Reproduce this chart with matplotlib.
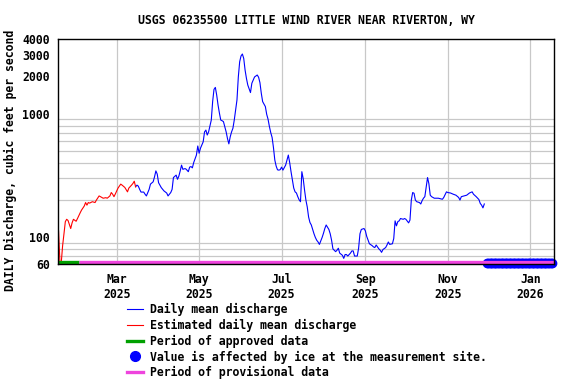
import pandas as pd
import matplotlib

matplotlib.use("Agg")

import matplotlib.pyplot as plt
import matplotlib.dates as mdates
from matplotlib.lines import Line2D

# =====================
# DATA (read off the USGS hydrograph)
# =====================

est_dates = [
    "2025-01-17", "2025-01-18", "2025-01-19", "2025-01-20", "2025-01-21",
    "2025-01-22", "2025-01-23", "2025-01-24", "2025-01-26", "2025-01-27",
    "2025-01-28", "2025-01-30", "2025-01-31", "2025-02-02", "2025-02-03",
    "2025-02-05", "2025-02-06", "2025-02-07", "2025-02-08", "2025-02-09",
    "2025-02-11", "2025-02-13", "2025-02-14", "2025-02-16", "2025-02-17",
    "2025-02-19", "2025-02-21", "2025-02-22", "2025-02-24", "2025-02-25",
    "2025-02-26", "2025-02-27", "2025-02-28", "2025-03-02", "2025-03-04",
    "2025-03-05", "2025-03-07", "2025-03-09", "2025-03-10", "2025-03-12",
    "2025-03-13", "2025-03-14", "2025-03-15",
]
est_values = [
    112, 63, 62, 85, 106,
    133, 139, 136, 117, 130,
    139, 134, 141, 157, 165,
    178, 190, 181, 190, 188,
    193, 190, 199, 215, 212,
    206, 208, 206, 215, 229,
    222, 212, 223, 249, 268,
    263, 252, 232, 249, 263,
    271, 283, 255,
]

daily_dates = [
    "2025-03-15", "2025-03-16", "2025-03-17", "2025-03-18", "2025-03-19",
    "2025-03-21", "2025-03-22", "2025-03-23", "2025-03-25", "2025-03-26",
    "2025-03-28", "2025-03-29", "2025-03-30", "2025-03-31", "2025-04-01",
    "2025-04-03", "2025-04-05", "2025-04-07", "2025-04-08", "2025-04-10",
    "2025-04-11", "2025-04-12", "2025-04-14", "2025-04-15", "2025-04-16",
    "2025-04-17", "2025-04-18", "2025-04-19", "2025-04-20", "2025-04-21",
    "2025-04-22", "2025-04-23", "2025-04-24", "2025-04-25", "2025-04-26",
    "2025-04-27", "2025-04-29", "2025-04-30", "2025-05-01", "2025-05-02",
    "2025-05-04", "2025-05-05", "2025-05-06", "2025-05-07", "2025-05-08",
    "2025-05-10", "2025-05-11", "2025-05-12", "2025-05-13", "2025-05-14",
    "2025-05-15", "2025-05-16", "2025-05-17", "2025-05-18", "2025-05-19",
    "2025-05-21", "2025-05-22", "2025-05-23", "2025-05-24", "2025-05-25",
    "2025-05-26", "2025-05-27", "2025-05-29", "2025-05-30", "2025-05-31",
    "2025-06-01", "2025-06-02", "2025-06-03", "2025-06-04", "2025-06-05",
    "2025-06-06", "2025-06-08", "2025-06-09", "2025-06-10", "2025-06-11",
    "2025-06-13", "2025-06-14", "2025-06-15", "2025-06-16", "2025-06-17",
    "2025-06-19", "2025-06-20", "2025-06-21", "2025-06-22", "2025-06-23",
    "2025-06-24", "2025-06-25", "2025-06-26", "2025-06-27", "2025-06-28",
    "2025-06-29", "2025-06-30", "2025-07-01", "2025-07-02", "2025-07-03",
    "2025-07-04", "2025-07-05", "2025-07-06", "2025-07-07", "2025-07-08",
    "2025-07-09", "2025-07-10", "2025-07-11", "2025-07-12", "2025-07-13",
    "2025-07-14", "2025-07-15", "2025-07-16", "2025-07-17", "2025-07-18",
    "2025-07-19", "2025-07-20", "2025-07-21", "2025-07-22", "2025-07-23",
    "2025-07-25", "2025-07-26", "2025-07-27", "2025-07-28", "2025-07-29",
    "2025-07-31", "2025-08-01", "2025-08-02", "2025-08-03", "2025-08-05",
    "2025-08-06", "2025-08-07", "2025-08-08", "2025-08-10", "2025-08-11",
    "2025-08-12", "2025-08-13", "2025-08-15", "2025-08-16", "2025-08-17",
    "2025-08-18", "2025-08-19", "2025-08-21", "2025-08-22", "2025-08-23",
    "2025-08-24", "2025-08-26", "2025-08-27", "2025-08-28", "2025-08-29",
    "2025-08-31", "2025-09-01", "2025-09-02", "2025-09-03", "2025-09-04",
    "2025-09-06", "2025-09-07", "2025-09-08", "2025-09-09", "2025-09-11",
    "2025-09-12", "2025-09-13", "2025-09-14", "2025-09-16", "2025-09-17",
    "2025-09-18", "2025-09-19", "2025-09-21", "2025-09-22", "2025-09-23",
    "2025-09-24", "2025-09-25", "2025-09-26", "2025-09-27", "2025-09-29",
    "2025-09-30", "2025-10-01", "2025-10-03", "2025-10-04", "2025-10-05",
    "2025-10-06", "2025-10-07", "2025-10-08", "2025-10-09", "2025-10-11",
    "2025-10-12", "2025-10-13", "2025-10-14", "2025-10-15", "2025-10-16",
    "2025-10-17", "2025-10-18", "2025-10-19", "2025-10-20", "2025-10-22",
    "2025-10-25", "2025-10-28", "2025-10-29", "2025-10-31", "2025-11-01",
    "2025-11-03", "2025-11-05", "2025-11-07", "2025-11-09", "2025-11-10",
    "2025-11-11", "2025-11-13", "2025-11-15", "2025-11-17", "2025-11-19",
    "2025-11-20", "2025-11-22", "2025-11-24", "2025-11-25", "2025-11-26",
    "2025-11-27", "2025-11-28",
]
daily_values = [
    255, 263, 258, 243, 231,
    231, 222, 215, 243, 268,
    280, 307, 343, 323, 275,
    251, 236, 227, 215, 229,
    243, 303, 317, 293, 311,
    343, 382, 353, 357, 357,
    348, 338, 368, 372, 363,
    401, 461, 546, 477, 524,
    590, 710, 735, 670, 710,
    886, 1250, 1570, 1630, 1413,
    1173, 1010, 886, 875, 860,
    710, 626, 568, 648, 710,
    760, 886, 1288, 1980, 2630,
    2930, 3040, 2800, 2254, 1930,
    1704, 1480, 1760, 1870, 1980,
    2054, 1970, 1780, 1460, 1250,
    1140, 985, 900, 785, 700,
    640, 530, 420, 375, 350,
    348, 351, 368, 348, 365,
    382, 420, 461, 401, 338,
    289, 249, 232, 227, 212,
    200, 193, 338, 297, 240,
    199, 175, 145, 131, 125,
    106, 99, 94, 91, 87,
    99, 107, 117, 125, 115,
    106, 94, 80, 76, 78,
    81, 74, 71, 67, 72,
    72, 70, 74, 77, 77,
    70, 70, 81, 106, 115,
    117, 112, 101, 94, 88,
    85, 83, 82, 86, 80,
    78, 75, 79, 82, 86,
    91, 87, 88, 97, 135,
    123, 133, 135, 141, 139,
    141, 139, 130, 137, 199,
    229, 226, 199, 193, 190,
    185, 197, 206, 212, 255,
    303, 270, 218, 212, 206,
    206, 202, 209, 232, 229,
    227, 222, 218, 209, 199,
    212, 215, 218, 227, 232,
    222, 212, 201, 187, 181,
    172, 185,
]

# data-quality periods
approved_period = ["2025-01-16", "2025-02-01"]
provisional_period = ["2025-02-01", "2026-01-19"]
ice_start = "2025-11-30"
ice_end = "2026-01-17"

title = "USGS 06235500 LITTLE WIND RIVER NEAR RIVERTON, WY"
ylabel = "DAILY Discharge, cubic feet per second"
ytick_vals = [60, 100, 1000, 2000, 3000, 4000]
ygrid_vals = [70, 80, 90, 100, 200, 300, 400, 500, 600, 700, 800, 900,
              1000, 2000, 3000]
legend_labels = [
    "Daily mean discharge",
    "Estimated daily mean discharge",
    "Period of approved data",
    "Value is affected by ice at the measurement site.",
    "Period of provisional data",
]

# =====================
# STYLE
# =====================

plt.rcParams["font.family"] = "DejaVu Sans Mono"
plt.rcParams["font.weight"] = "bold"
FS = 8.3
BLUE = "#0000ff"
RED = "#ff0000"
GREEN = "#00a000"
PINK = "#ee44dd"
GRID = "#c8c8c8"
BAR_LEVEL = 63
ICE_LEVEL = 62

fig = plt.figure(figsize=(5.76, 3.84), dpi=100)
ax = fig.add_axes([58 / 576, 1 - 264.3 / 384, 496.3 / 576, 225 / 384])

ax.plot(pd.to_datetime(daily_dates), daily_values, color=BLUE, lw=0.8, zorder=3)
ax.plot(pd.to_datetime(est_dates), est_values, color=RED, lw=0.8, zorder=3)

ice_dates = pd.date_range(ice_start, ice_end, freq="D")
ax.plot(ice_dates, [ICE_LEVEL] * len(ice_dates), "o", color=BLUE, ms=6,
        mec=BLUE, clip_on=False, zorder=4)

ax.plot(pd.to_datetime(approved_period), [BAR_LEVEL] * 2, color=GREEN,
        lw=2.4, solid_capstyle="butt", zorder=5)
ax.plot(pd.to_datetime(provisional_period), [BAR_LEVEL] * 2, color=PINK,
        lw=2.4, solid_capstyle="butt", zorder=5)

ax.set_yscale("log")
ax.set_ylim(60, 4000)
ax.set_xlim(pd.Timestamp("2025-01-16 14:00"), pd.Timestamp("2026-01-18 19:00"))

ax.set_yticks(ytick_vals)
ax.set_yticklabels([str(v) for v in ytick_vals])
ax.set_yticks(ygrid_vals, minor=True)
ax.yaxis.set_minor_formatter(plt.NullFormatter())

ax.xaxis.set_major_locator(mdates.MonthLocator(bymonth=[1, 3, 5, 7, 9, 11]))
ax.xaxis.set_major_formatter(mdates.DateFormatter("%b\n%Y"))

ax.grid(which="minor", axis="y", color=GRID, lw=0.9)
ax.grid(which="major", axis="x", color=GRID, lw=0.9)
ax.set_axisbelow(True)

ax.tick_params(which="both", length=0, labelsize=FS, pad=6)
for s in ax.spines.values():
    s.set_linewidth(1.0)
    s.set_zorder(6)

fig.text(306 / 576, 1 - 21 / 384, title, ha="center", va="center",
         fontsize=FS)
fig.text(10 / 576, 1 - 160 / 384, ylabel, rotation=90, ha="center",
         va="center", fontsize=FS)

handles = [
    Line2D([], [], color=BLUE, lw=0.8),
    Line2D([], [], color=RED, lw=0.8),
    Line2D([], [], color=GREEN, lw=2.4),
    Line2D([], [], color=BLUE, marker="o", ls="none", ms=7),
    Line2D([], [], color=PINK, lw=2.4),
]
fig.legend(handles, legend_labels, loc="upper left",
           bbox_to_anchor=(126.7 / 576, 1 - 302.5 / 384), frameon=False,
           fontsize=FS, borderpad=0, borderaxespad=0, handlelength=1.45,
           handletextpad=0.58, labelspacing=0.25)

plt.savefig("out.png", dpi=100)
plt.close()
